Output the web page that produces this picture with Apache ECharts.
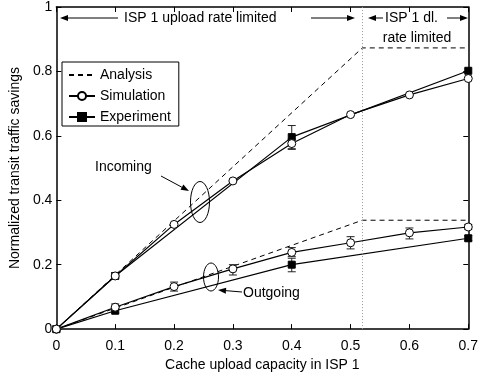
<!DOCTYPE html>
<html>
<head>
<meta charset="utf-8">
<script src="https://cdn.jsdelivr.net/npm/echarts@6/dist/echarts.min.js"></script>
<style>
  html, body { margin: 0; padding: 0; background: #fff; }
  #chart { width: 481px; height: 377px; }
</style>
</head>
<body>
<div id="chart"></div>
<script>
// capacities
const xSim = [0, 0.1, 0.2, 0.3, 0.4, 0.5, 0.6, 0.7];
const xExp = [0, 0.1, 0.4, 0.7];
const xAna = [0, 0.52, 0.7];

// analysis (dashed)
const anaIn = [0, 0.873, 0.873];
const anaOut = [0, 0.338, 0.338];

// simulation (circles)
const simIn = [0, 0.165, 0.325, 0.46, 0.576, 0.666, 0.727, 0.778];
const simOut = [0, 0.068, 0.132, 0.187, 0.238, 0.268, 0.299, 0.317];

// experiment (squares)
const expIn = [0, 0.165, 0.596, 0.802];
const expOut = [0, 0.057, 0.2, 0.282];

// error bars: [x, low, high]
const simErr = [
  [0.4, 0.558, 0.59],
  [0.1, 0.06, 0.078], [0.2, 0.118, 0.146], [0.3, 0.168, 0.2],
  [0.4, 0.225, 0.253], [0.5, 0.249, 0.287], [0.6, 0.28, 0.314], [0.7, 0.31, 0.325]
];
const expErr = [
  [0.1, 0.158, 0.175], [0.4, 0.56, 0.632],
  [0.1, 0.05, 0.065], [0.4, 0.178, 0.22], [0.7, 0.274, 0.29]
];

const dlLimitX = 0.52;
const xTicks = { min: 0, max: 0.7, interval: 0.1 };
const yTicks = { min: 0, max: 1, interval: 0.2 };

const FONT = "Liberation Sans";
const pairs = (xs, ys) => xs.map((x, i) => [x, ys[i]]);

const chart = echarts.init(document.getElementById("chart"));

const axisBase = {
  type: "value",
  axisLine: { show: true, onZero: false, lineStyle: { color: "#000", width: 1.5 } },
  axisTick: { show: true, inside: true, length: 5, lineStyle: { color: "#000", width: 1 } },
  splitLine: { show: false },
};

const errRender = (params, api) => {
  const x = api.value(0);
  const lo = api.coord([x, api.value(1)]);
  const hi = api.coord([x, api.value(2)]);
  const w = 4;
  const st = { stroke: "#222", lineWidth: 1 };
  return {
    type: "group",
    children: [
      { type: "line", shape: { x1: lo[0], y1: lo[1], x2: hi[0], y2: hi[1] }, style: st },
      { type: "line", shape: { x1: lo[0] - w, y1: lo[1], x2: lo[0] + w, y2: lo[1] }, style: st },
      { type: "line", shape: { x1: hi[0] - w, y1: hi[1], x2: hi[0] + w, y2: hi[1] }, style: st },
    ],
  };
};

const anaStyle = { type: "line", name: "Analysis", symbol: "none",
  lineStyle: { color: "#000", width: 1, type: [5, 4] }, itemStyle: { color: "#000" }, z: 3 };
const simStyle = { type: "line", name: "Simulation", symbol: "circle", symbolSize: 8,
  lineStyle: { color: "#000", width: 1.2 },
  itemStyle: { color: "#fff", borderColor: "#000", borderWidth: 1 }, z: 5 };
const expStyle = { type: "line", name: "Experiment", symbol: "rect", symbolSize: 7,
  lineStyle: { color: "#000", width: 1.2 },
  itemStyle: { color: "#000", borderColor: "#000", borderWidth: 1 }, z: 4 };

const option = {
  animation: false,
  textStyle: { fontFamily: FONT, color: "#000" },
  grid: { left: 54, right: 12, top: 5, bottom: 45 },
  xAxis: [
    Object.assign({}, axisBase, xTicks, {
      position: "bottom",
      name: "Cache upload capacity in ISP 1",
      nameLocation: "middle",
      nameGap: 27,
      nameTextStyle: { fontFamily: FONT, fontSize: 14, color: "#000" },
      axisLabel: { fontFamily: FONT, fontSize: 14, color: "#000", margin: 10 },
    }),
    Object.assign({}, axisBase, xTicks, { position: "top", axisLabel: { show: false } }),
  ],
  yAxis: [
    Object.assign({}, axisBase, yTicks, {
      position: "left",
      name: "Normalized transit traffic savings",
      nameLocation: "middle",
      nameGap: 33,
      nameTextStyle: { fontFamily: FONT, fontSize: 14, color: "#000" },
      axisLabel: { fontFamily: FONT, fontSize: 14, color: "#000", margin: 4 },
    }),
    Object.assign({}, axisBase, yTicks, { position: "right", axisLabel: { show: false } }),
  ],
  legend: {
    data: [
      { name: "Analysis", itemStyle: { opacity: 0 } },
      { name: "Simulation" },
      { name: "Experiment" },
    ],
    orient: "vertical",
    left: 62,
    top: 62,
    padding: [6, 8, 2, 6],
    itemGap: 7,
    itemWidth: 26,
    itemHeight: 10,
    borderColor: "#000",
    borderWidth: 1,
    backgroundColor: "#fff",
    textStyle: { fontFamily: FONT, fontSize: 14, color: "#000" },
    selectedMode: false,
  },
  series: [
    Object.assign({}, anaStyle, {
      data: pairs(xAna, anaIn),
      markLine: {
        silent: true, symbol: "none", label: { show: false },
        lineStyle: { color: "#999", width: 1, type: [1, 2] },
        data: [{ xAxis: dlLimitX }],
      },
    }),
    Object.assign({}, anaStyle, { data: pairs(xAna, anaOut) }),
    Object.assign({}, expStyle, { data: pairs(xExp, expIn) }),
    Object.assign({}, expStyle, { data: pairs(xExp, expOut) }),
    Object.assign({}, simStyle, { data: pairs(xSim, simIn) }),
    Object.assign({}, simStyle, { data: pairs(xSim, simOut) }),
    { type: "custom", renderItem: errRender, data: simErr, z: 2, silent: true },
    { type: "custom", renderItem: errRender, data: expErr, z: 2, silent: true },
  ],
};

chart.setOption(option);

// annotations (pixel positions)
const arrow = (x1, y1, x2, y2) => {
  const a = Math.atan2(y2 - y1, x2 - x1);
  const L = 8, W = 3;
  const bx = x2 - L * Math.cos(a), by = y2 - L * Math.sin(a);
  const px = -Math.sin(a) * W, py = Math.cos(a) * W;
  return [
    { type: "line", shape: { x1, y1, x2: bx, y2: by }, style: { stroke: "#000", lineWidth: 1 }, z: 20 },
    { type: "polygon", shape: { points: [[x2, y2], [bx + px, by + py], [bx - px, by - py]] },
      style: { fill: "#000" }, z: 20 },
  ];
};
const label = (x, y, text, align) => ({
  type: "text", x, y, z: 20,
  style: { text, fontFamily: FONT, fontSize: 14, fill: "#000", align: align || "left", verticalAlign: "middle" },
});
const ellipse = (cx, cy, rx, ry) => ({
  type: "ellipse", shape: { cx, cy, rx, ry }, z: 20,
  style: { fill: "none", stroke: "#000", lineWidth: 1 },
});

chart.setOption({
  graphic: [].concat(
    arrow(118, 18, 60, 18),
    [label(124, 18, "ISP 1 upload rate limited")],
    arrow(311, 18, 355, 18),
    arrow(383, 18, 368, 18),
    [label(385, 18, "ISP 1 dl.")],
    arrow(447, 18, 468, 18),
    [label(417, 38, "rate limited", "center")],
    [label(95, 167, "Incoming")],
    arrow(161, 176, 189, 191),
    [ellipse(200, 202, 9.5, 20.5)],
    [label(243, 293, "Outgoing")],
    arrow(242, 292, 218, 290),
    [ellipse(211, 277, 7.5, 14)]
  ),
});
</script>
</body>
</html>
